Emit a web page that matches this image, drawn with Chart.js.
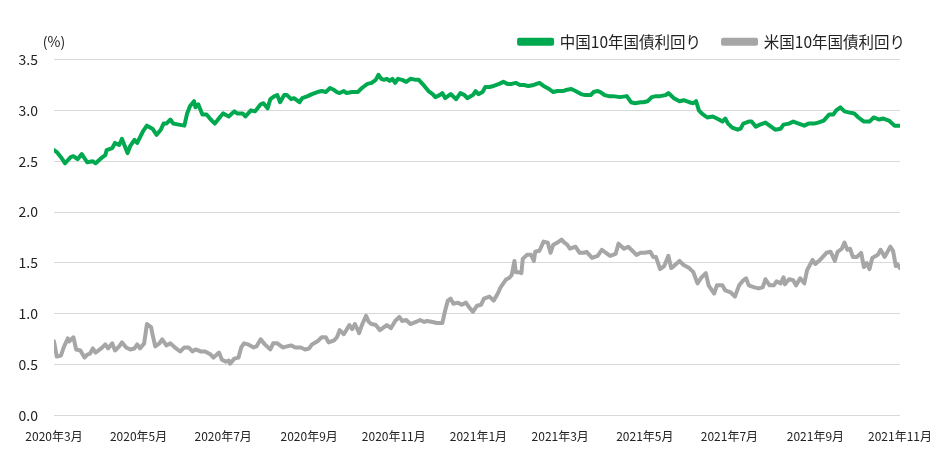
<!DOCTYPE html>
<html>
<head>
<meta charset="utf-8">
<script src="https://cdn.jsdelivr.net/npm/chart.js@4.4.1/dist/chart.umd.min.js"></script>
<style>
  html, body { margin: 0; padding: 0; background: #fff; }
  #wrap { width: 941px; height: 461px; position: relative; }
</style>
</head>
<body>
<div id="wrap"><canvas id="yieldChart"></canvas></div>
<script>
// days counted from 2020-03-01
const tickDays = [0, 61, 122, 184, 245, 306, 365, 426, 487, 549, 610];
const tickLabels = ["2020年3月", "2020年5月", "2020年7月", "2020年9月", "2020年11月", "2021年1月",
  "2021年3月", "2021年5月", "2021年7月", "2021年9月", "2021年11月"];

const chinaDays = [0, 2, 5, 8, 12, 14, 17, 20, 24, 28, 30, 34, 37, 38, 42, 44, 47, 49, 51, 53, 55, 58, 60, 64, 67, 71, 74, 77, 79, 81,
  84, 86, 90, 94, 96, 98, 101, 102, 104, 107, 110, 113, 116, 120, 122, 126, 130, 132, 136, 138, 142, 145, 149, 151, 154, 156, 159, 161, 163, 166,
  168, 171, 173, 177, 179, 183, 186, 190, 193, 196, 199, 202, 204, 206, 209, 211, 215, 219, 222, 226, 229, 232, 234, 236, 238, 240, 242, 244, 246, 248,
  251, 254, 257, 261, 263, 267, 270, 273, 275, 278, 280, 282, 285, 286, 290, 293, 296, 298, 302, 304, 306, 309, 311, 314, 317, 321, 324, 327, 330, 333,
  336, 339, 342, 346, 350, 353, 357, 360, 363, 367, 369, 373, 376, 380, 383, 387, 389, 392, 394, 397, 400, 403, 408, 413, 416, 419, 423, 425, 428, 431,
  434, 437, 441, 443, 447, 451, 454, 458, 461, 463, 465, 467, 471, 475, 478, 482, 484, 486, 489, 493, 495, 497, 501, 503, 506, 509, 513, 516, 520, 524,
  526, 530, 533, 537, 541, 544, 548, 551, 555, 559, 562, 564, 567, 570, 573, 577, 580, 584, 588, 591, 595, 598, 602, 606, 610];
const chinaYield = [2.61, 2.59, 2.54, 2.48, 2.54, 2.55, 2.52, 2.57, 2.49, 2.50, 2.48, 2.53, 2.56, 2.61, 2.63, 2.68, 2.66, 2.72, 2.65, 2.58, 2.65, 2.71, 2.68, 2.79, 2.85, 2.82, 2.76, 2.81, 2.87, 2.87,
  2.91, 2.87, 2.86, 2.85, 2.97, 3.04, 3.09, 3.03, 3.06, 2.96, 2.96, 2.91, 2.87, 2.94, 2.97, 2.94, 2.99, 2.97, 2.97, 2.94, 3.00, 2.99, 3.06, 3.07, 3.02, 3.11, 3.14, 3.15, 3.08, 3.15,
  3.15, 3.11, 3.12, 3.08, 3.12, 3.14, 3.16, 3.18, 3.19, 3.18, 3.22, 3.20, 3.18, 3.17, 3.19, 3.17, 3.18, 3.18, 3.22, 3.26, 3.27, 3.30, 3.35, 3.31, 3.30, 3.31, 3.29, 3.31, 3.27, 3.31,
  3.30, 3.28, 3.31, 3.30, 3.30, 3.24, 3.19, 3.16, 3.13, 3.15, 3.17, 3.12, 3.15, 3.16, 3.11, 3.17, 3.15, 3.12, 3.15, 3.19, 3.16, 3.18, 3.23, 3.23, 3.24, 3.26, 3.28, 3.26, 3.26, 3.27,
  3.25, 3.25, 3.24, 3.25, 3.27, 3.24, 3.21, 3.18, 3.19, 3.19, 3.20, 3.21, 3.19, 3.16, 3.15, 3.15, 3.18, 3.19, 3.18, 3.15, 3.14, 3.14, 3.13, 3.14, 3.08, 3.07, 3.08, 3.08, 3.09, 3.13,
  3.14, 3.14, 3.15, 3.17, 3.12, 3.09, 3.10, 3.08, 3.07, 3.09, 3.00, 2.97, 2.93, 2.94, 2.92, 2.89, 2.92, 2.87, 2.83, 2.81, 2.82, 2.87, 2.89, 2.89, 2.84, 2.86, 2.88, 2.85, 2.81, 2.82,
  2.86, 2.87, 2.89, 2.87, 2.85, 2.87, 2.87, 2.88, 2.90, 2.96, 2.96, 3.00, 3.03, 2.99, 2.98, 2.97, 2.93, 2.89, 2.89, 2.93, 2.91, 2.92, 2.90, 2.85, 2.85];

const usDays = [0, 2, 5, 7, 10, 11, 14, 16, 19, 22, 24, 26, 28, 30, 34, 37, 39, 42, 44, 47, 49, 52, 55, 58, 60, 62, 65, 67, 70, 71,
  73, 76, 78, 81, 84, 88, 91, 94, 97, 100, 102, 106, 109, 113, 115, 119, 121, 124, 126, 127, 130, 133, 135, 137, 140, 144, 146, 149, 152, 156,
  158, 161, 165, 168, 171, 174, 178, 181, 184, 186, 190, 193, 196, 198, 202, 204, 206, 209, 213, 215, 217, 220, 222, 225, 227, 229, 232, 235, 238, 240,
  243, 246, 249, 251, 254, 257, 261, 264, 267, 269, 273, 276, 280, 282, 284, 286, 288, 291, 294, 297, 299, 302, 305, 308, 310, 314, 317, 320, 322, 326,
  328, 330, 332, 333, 335, 337, 338, 341, 344, 346, 347, 350, 353, 356, 358, 360, 363, 366, 368, 370, 372, 376, 379, 382, 384, 388, 392, 395, 398, 401,
  405, 407, 411, 414, 417, 420, 423, 426, 430, 432, 434, 437, 440, 443, 445, 447, 451, 454, 458, 461, 464, 467, 470, 472, 476, 478, 482, 484, 488, 491,
  494, 497, 499, 501, 505, 508, 511, 513, 516, 519, 521, 524, 526, 527, 530, 533, 535, 538, 541, 543, 545, 547, 549, 553, 557, 560, 563, 565, 568, 570,
  572, 574, 576, 579, 582, 584, 586, 588, 590, 594, 596, 599, 603, 605, 607, 608, 610];
const usYield = [0.73, 0.58, 0.59, 0.67, 0.76, 0.73, 0.77, 0.65, 0.64, 0.57, 0.60, 0.61, 0.66, 0.62, 0.66, 0.70, 0.66, 0.71, 0.64, 0.68, 0.72, 0.67, 0.65, 0.66, 0.70, 0.66, 0.71, 0.90, 0.87, 0.80,
  0.68, 0.71, 0.75, 0.69, 0.71, 0.66, 0.63, 0.67, 0.67, 0.63, 0.65, 0.63, 0.63, 0.60, 0.57, 0.62, 0.55, 0.53, 0.54, 0.51, 0.56, 0.57, 0.67, 0.71, 0.70, 0.67, 0.68, 0.75, 0.70, 0.65,
  0.71, 0.71, 0.67, 0.68, 0.69, 0.67, 0.67, 0.65, 0.66, 0.70, 0.73, 0.77, 0.77, 0.72, 0.74, 0.77, 0.84, 0.80, 0.89, 0.85, 0.90, 0.81, 0.89, 0.98, 0.92, 0.90, 0.89, 0.84, 0.87, 0.89,
  0.86, 0.93, 0.97, 0.93, 0.94, 0.90, 0.92, 0.94, 0.92, 0.93, 0.92, 0.91, 0.91, 1.03, 1.13, 1.15, 1.10, 1.11, 1.09, 1.11, 1.07, 1.02, 1.08, 1.09, 1.15, 1.17, 1.13, 1.20, 1.26, 1.34,
  1.35, 1.38, 1.52, 1.41, 1.41, 1.40, 1.54, 1.58, 1.58, 1.52, 1.61, 1.62, 1.71, 1.70, 1.60, 1.68, 1.70, 1.73, 1.70, 1.68, 1.64, 1.66, 1.60, 1.60, 1.61, 1.55, 1.57, 1.63, 1.60, 1.57,
  1.59, 1.69, 1.64, 1.66, 1.62, 1.58, 1.60, 1.60, 1.61, 1.56, 1.56, 1.44, 1.47, 1.57, 1.45, 1.47, 1.52, 1.48, 1.45, 1.41, 1.30, 1.36, 1.40, 1.28, 1.20, 1.28, 1.28, 1.23, 1.21, 1.17,
  1.28, 1.33, 1.35, 1.28, 1.26, 1.25, 1.26, 1.34, 1.28, 1.28, 1.32, 1.30, 1.36, 1.29, 1.34, 1.33, 1.28, 1.35, 1.30, 1.43, 1.48, 1.53, 1.49, 1.54, 1.60, 1.61, 1.52, 1.61, 1.64, 1.70,
  1.63, 1.64, 1.56, 1.56, 1.60, 1.46, 1.50, 1.44, 1.55, 1.58, 1.63, 1.56, 1.66, 1.62, 1.47, 1.49, 1.45];

const FONT = "'Noto Sans CJK JP', 'Noto Sans', sans-serif";
Chart.defaults.font.family = FONT;
Chart.defaults.color = "#222";

// "(%)" above the y axis
const unitLabel = {
  id: "unitLabel",
  afterDraw(chart) {
    const { ctx, chartArea } = chart;
    ctx.save();
    ctx.font = "14px " + FONT;
    ctx.fillStyle = "#222";
    ctx.textAlign = "center";
    ctx.textBaseline = "middle";
    ctx.fillText("(%)", chartArea.left, chartArea.top - 18);
    ctx.restore();
  }
};

const toPoints = (days, vals) => days.map((d, i) => ({ x: d, y: vals[i] }));

new Chart(document.getElementById("yieldChart"), {
  type: "line",
  data: {
    datasets: [
      { label: "中国10年国債利回り", data: toPoints(chinaDays, chinaYield), borderColor: "#00a94f", backgroundColor: "#00a94f", borderWidth: 4 },
      { label: "米国10年国債利回り", data: toPoints(usDays, usYield), borderColor: "#a6a6a6", backgroundColor: "#a6a6a6", borderWidth: 4 }
    ]
  },
  options: {
    responsive: true,
    maintainAspectRatio: false,
    animation: false,
    elements: { point: { radius: 0 }, line: { tension: 0, borderJoinStyle: "round", borderCapStyle: "round" } },
    layout: { padding: { left: 0, right: 14, top: 12, bottom: 11 } },
    plugins: {
      tooltip: { enabled: false },
      legend: {
        position: "top",
        align: "end",
        labels: { boxWidth: 33, boxHeight: 4, padding: 22, font: { size: 15.5 }, color: "#222" }
      }
    },
    scales: {
      x: {
        type: "linear",
        min: 0,
        max: 610,
        grid: { display: false },
        border: { display: false },
        afterBuildTicks: (scale) => { scale.ticks = tickDays.map(v => ({ value: v })); },
        afterFit: (scale) => { scale.paddingRight = 41; },
        ticks: {
          autoSkip: false,
          maxRotation: 0,
          padding: 6,
          font: { size: 12 },
          color: "#222",
          callback: (v) => tickLabels[tickDays.indexOf(v)]
        }
      },
      y: {
        min: 0,
        max: 3.5,
        border: { display: false },
        grid: { color: "#d9d9d9", lineWidth: 1, drawTicks: false },
        afterFit: (scale) => { scale.width = 54; },
        ticks: { stepSize: 0.5, padding: 16, font: { size: 14 }, color: "#222", callback: (v) => v.toFixed(1) }
      }
    }
  },
  plugins: [unitLabel]
});
</script>
</body>
</html>
